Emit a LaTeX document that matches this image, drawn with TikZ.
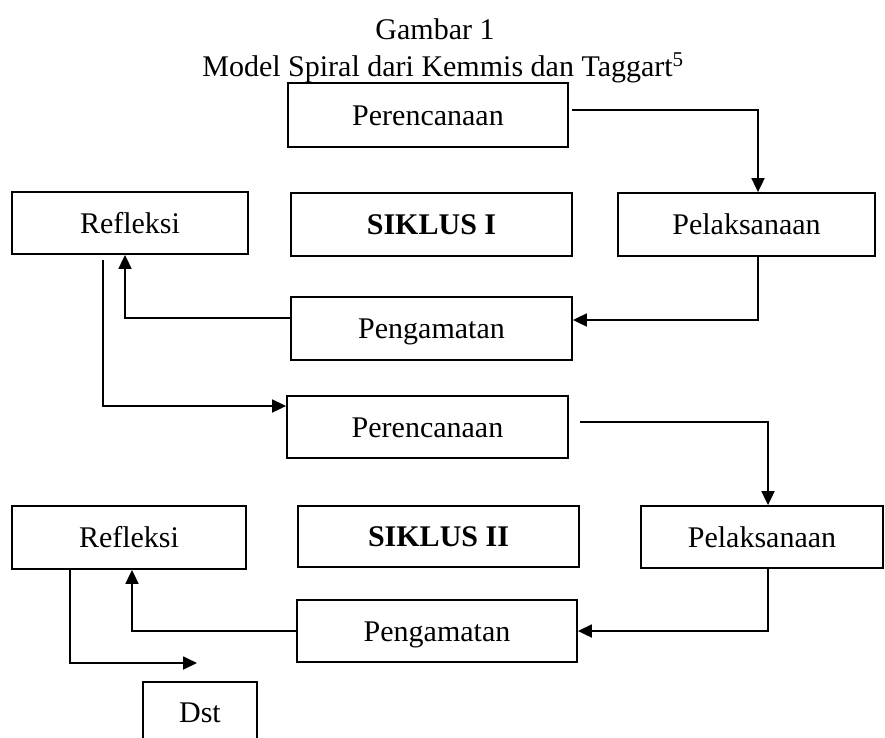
\documentclass[tikz,border=0pt]{standalone}
\usepackage{fontspec}
\setmainfont{Liberation Serif}
\usetikzlibrary{arrows.meta}

\begin{document}
\begin{tikzpicture}[x=1pt, y=-1pt, line width=1.8pt,
    label text/.style={font=\fontsize{30}{36}\selectfont},
    stage/.style={draw=black, label text, inner sep=0pt, text height=20pt, text depth=0pt},
    flow/.style={color=black, -{Triangle[length=14pt, width=13pt]}}]
    \useasboundingbox (0, 0) rectangle (885, 737);

    % draw caption
    \node[label text, anchor=base] (title) at (435, 39) {Gambar 1};
    \node[label text, anchor=base] (subtitle) at (443, 76) {Model Spiral dari Kemmis dan Taggart\textsuperscript{5}};

    % draw boxes of cycle I
    \node[stage, minimum width=280pt, minimum height=64pt] (ren1) at (428, 115) {Perencanaan};
    \node[stage, minimum width=236pt, minimum height=62pt] (ref1) at (130, 223) {Refleksi};
    \node[stage, minimum width=281pt, minimum height=63pt] (sik1) at (431.5, 224.5) {\bfseries SIKLUS I};
    \node[stage, minimum width=257pt, minimum height=63pt] (pel1) at (746.5, 224.5) {Pelaksanaan};
    \node[stage, minimum width=281pt, minimum height=63pt] (pen1) at (431.5, 328.5) {Pengamatan};

    % draw boxes of cycle II
    \node[stage, minimum width=281pt, minimum height=62pt] (ren2) at (427.5, 427) {Perencanaan};
    \node[stage, minimum width=234pt, minimum height=63pt] (ref2) at (129, 537.5) {Refleksi};
    \node[stage, minimum width=281pt, minimum height=61pt] (sik2) at (438.5, 536.5) {\bfseries SIKLUS II};
    \node[stage, minimum width=242pt, minimum height=62pt] (pel2) at (762, 537) {Pelaksanaan};
    \node[stage, minimum width=280pt, minimum height=62pt] (pen2) at (437, 631) {Pengamatan};
    \node[stage, minimum width=114pt, minimum height=60pt] (dst) at (200, 712) {Dst};

    % draw arrows of cycle I
    \draw[flow] ([xshift=3pt, yshift=5pt]ren1.east) -| ([xshift=11.5pt]pel1.north);
    \draw[flow] ([xshift=11.5pt]pel1.south) |- ([yshift=8.5pt]pen1.east);
    \draw[flow] ([yshift=10.5pt]pen1.west) -| ([xshift=-5pt]ref1.south);
    \draw[flow] ([xshift=-27pt, yshift=-5pt]ref1.south) |- ([yshift=21pt]ren2.west);

    % draw arrows of cycle II
    \draw[flow] ([xshift=11pt, yshift=5pt]ren2.east) -| ([xshift=6pt]pel2.north);
    \draw[flow] ([xshift=6pt]pel2.south) |- (pen2.east);
    \draw[flow] (pen2.west) -| ([xshift=3pt]ref2.south);
    \coordinate (next) at (197, 663);
    \draw[flow] ([xshift=-59pt]ref2.south) |- (next);

\end{tikzpicture}
\end{document}
